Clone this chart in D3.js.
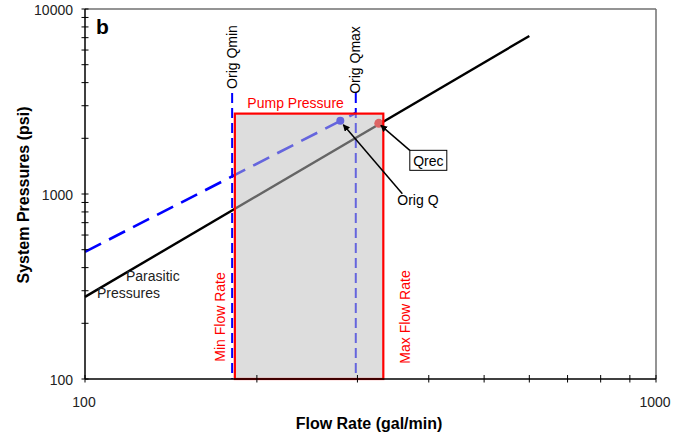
<!DOCTYPE html>
<html>
<head>
<meta charset="utf-8">
<script src="https://cdn.jsdelivr.net/npm/d3@7"></script>
<style>
  html, body { margin: 0; padding: 0; background: #fff; }
  svg { display: block; font-family: "Liberation Sans", Arial, sans-serif; }
</style>
</head>
<body>
<svg id="chart" width="684" height="440"></svg>
<script>
// Axis tick values (gal/min and psi, log scales)
const xTickValues = [100, 1000];
const yTickValues = [100, 1000, 10000];

// Parasitic pressure curve (flow, pressure)
const parasiticFlow = [100, 600];
const parasiticPressure = [278, 7150];

// Original system curve, ending at the original max flow
const origFlow = [100, 298];
const origPressure = [487, 2740];

// Original operating limits
const origQmin = 181;
const origQmax = 298;

// Pump envelope
const minFlowRate = 183;
const maxFlowRate = 333;
const pumpPressure = 2720;

// Operating points
const origQPoint = [280, 2490];
const qrecPoint = [327, 2410];

const svg = d3.select("#chart");
const plotLeft = 85, plotRight = 656, plotTop = 9, plotBottom = 379;

const x = d3.scaleLog().domain([100, 1000]).range([plotLeft, plotRight]);
const y = d3.scaleLog().domain([100, 10000]).range([plotBottom, plotTop]);

const defs = svg.append("defs");
defs.append("marker")
  .attr("id", "arrow").attr("viewBox", "0 0 10 10")
  .attr("refX", 9).attr("refY", 5)
  .attr("markerWidth", 7).attr("markerHeight", 7)
  .attr("markerUnits", "userSpaceOnUse")
  .attr("orient", "auto")
  .append("path").attr("d", "M0,0 L10,5 L0,10 z").attr("fill", "#000");

// frame: top and right in gray
svg.append("line").attr("x1", plotLeft).attr("x2", plotRight).attr("y1", plotTop).attr("y2", plotTop)
  .attr("stroke", "#707070").attr("stroke-width", 1.5);
svg.append("line").attr("x1", plotRight).attr("x2", plotRight).attr("y1", plotTop).attr("y2", plotBottom)
  .attr("stroke", "#707070").attr("stroke-width", 1.5);

const line = d3.line().x(d => x(d[0])).y(d => y(d[1]));

// vertical original limits
[origQmin, origQmax].forEach(q => {
  svg.append("line")
    .attr("x1", x(q)).attr("x2", x(q)).attr("y1", 93).attr("y2", plotBottom)
    .attr("stroke", "#0000ff").attr("stroke-width", 2)
    .attr("stroke-dasharray", "10,5");
});

// original system curve
svg.append("path")
  .datum(d3.zip(origFlow, origPressure))
  .attr("d", line).attr("fill", "none")
  .attr("stroke", "#0000ff").attr("stroke-width", 2.6)
  .attr("stroke-dasharray", "18,9");

// parasitic pressure curve
svg.append("path")
  .datum(d3.zip(parasiticFlow, parasiticPressure))
  .attr("d", line).attr("fill", "none")
  .attr("stroke", "#000").attr("stroke-width", 2.4);

// operating points
svg.append("circle").attr("cx", x(origQPoint[0])).attr("cy", y(origQPoint[1]))
  .attr("r", 4).attr("fill", "#0000ff");
svg.append("circle").attr("cx", x(qrecPoint[0])).attr("cy", y(qrecPoint[1]))
  .attr("r", 4.5).attr("fill", "#ff0000");

// pump envelope (translucent fill over the curves)
svg.append("rect")
  .attr("x", x(minFlowRate)).attr("y", y(pumpPressure))
  .attr("width", x(maxFlowRate) - x(minFlowRate))
  .attr("height", y(100) - y(pumpPressure))
  .attr("fill", "rgb(190,190,190)").attr("fill-opacity", 0.53)
  .attr("stroke", "#ff0000").attr("stroke-width", 2.2);

// axes
const xAxis = svg.append("g").attr("transform", `translate(0,${plotBottom})`);
xAxis.append("line").attr("x1", plotLeft).attr("x2", plotRight).attr("stroke", "#000").attr("stroke-width", 1.5);
const xMinor = d3.range(100, 1001, 100);
xAxis.selectAll("line.t").data(xMinor).join("line").attr("class", "t")
  .attr("x1", d => x(d)).attr("x2", d => x(d)).attr("y1", -4).attr("y2", 3.5)
  .attr("stroke", "#000").attr("stroke-width", 1);
xAxis.selectAll("text").data(xTickValues).join("text")
  .attr("x", d => x(d) - 1).attr("y", 28).attr("text-anchor", "middle")
  .attr("font-size", 14).attr("fill", "#222").text(d => d);

const yAxis = svg.append("g").attr("transform", `translate(${plotLeft},0)`);
yAxis.append("line").attr("y1", plotTop).attr("y2", plotBottom).attr("stroke", "#000").attr("stroke-width", 1.5);
const yMinor = d3.range(100, 1000, 100).concat(d3.range(1000, 10001, 1000));
yAxis.selectAll("line.t").data(yMinor).join("line").attr("class", "t")
  .attr("y1", d => y(d)).attr("y2", d => y(d)).attr("x1", -3.5).attr("x2", 3.5)
  .attr("stroke", "#000").attr("stroke-width", 1);
yAxis.selectAll("text").data(yTickValues).join("text")
  .attr("x", -12).attr("y", d => y(d) + 5.5).attr("text-anchor", "end")
  .attr("font-size", 14).attr("fill", "#222").text(d => d);

// axis titles
svg.append("text").attr("x", 369).attr("y", 429).attr("text-anchor", "middle")
  .attr("font-size", 16).attr("font-weight", "bold").text("Flow Rate (gal/min)");
svg.append("text").attr("transform", "translate(29,195) rotate(-90)")
  .attr("text-anchor", "middle").attr("font-size", 16).attr("font-weight", "bold")
  .text("System Pressures (psi)");

// panel letter
svg.append("text").attr("x", 96).attr("y", 34).attr("font-size", 21)
  .attr("font-weight", "bold").text("b");

// labels
svg.append("text").attr("transform", `translate(${x(origQmin) + 5},57) rotate(-90)`)
  .attr("text-anchor", "middle").attr("font-size", 14).text("Orig Qmin");
svg.append("text").attr("transform", `translate(${x(origQmax) + 4.5},60) rotate(-90)`)
  .attr("text-anchor", "middle").attr("font-size", 14).text("Orig Qmax");
svg.append("text").attr("x", (x(minFlowRate) + x(maxFlowRate)) / 2 - 13.5).attr("y", 108)
  .attr("text-anchor", "middle").attr("font-size", 14).attr("fill", "#ff0000")
  .text("Pump Pressure");
svg.append("text").attr("transform", `translate(${x(minFlowRate) - 10},317) rotate(-90)`)
  .attr("text-anchor", "middle").attr("font-size", 14).attr("fill", "#ff0000")
  .text("Min Flow Rate");
svg.append("text").attr("transform", `translate(${x(maxFlowRate) + 26.5},317) rotate(-90)`)
  .attr("text-anchor", "middle").attr("font-size", 14).attr("fill", "#ff0000")
  .text("Max Flow Rate");
svg.append("text").attr("x", 126).attr("y", 281).attr("font-size", 14).attr("fill", "#222").text("Parasitic");
svg.append("text").attr("x", 97).attr("y", 298).attr("font-size", 14).attr("fill", "#222").text("Pressures");

// Qrec callout
const qx = x(qrecPoint[0]), qy = y(qrecPoint[1]);
svg.append("rect").attr("x", qx + 31).attr("y", qy + 27).attr("width", 37).attr("height", 20)
  .attr("fill", "#fff").attr("stroke", "#000").attr("stroke-width", 1);
svg.append("text").attr("x", qx + 49.5).attr("y", qy + 42.5).attr("text-anchor", "middle")
  .attr("font-size", 14).text("Qrec");
svg.append("line").attr("x1", qx + 31).attr("y1", qy + 27).attr("x2", qx + 2).attr("y2", qy + 2)
  .attr("stroke", "#000").attr("stroke-width", 1.5).attr("marker-end", "url(#arrow)");

// Orig Q callout
const ox = x(origQPoint[0]), oy = y(origQPoint[1]);
svg.append("text").attr("x", ox + 57).attr("y", oy + 84).attr("font-size", 14).text("Orig Q");
svg.append("line").attr("x1", ox + 62).attr("y1", oy + 73).attr("x2", ox + 3).attr("y2", oy + 4)
  .attr("stroke", "#000").attr("stroke-width", 1.5).attr("marker-end", "url(#arrow)");
</script>
</body>
</html>
